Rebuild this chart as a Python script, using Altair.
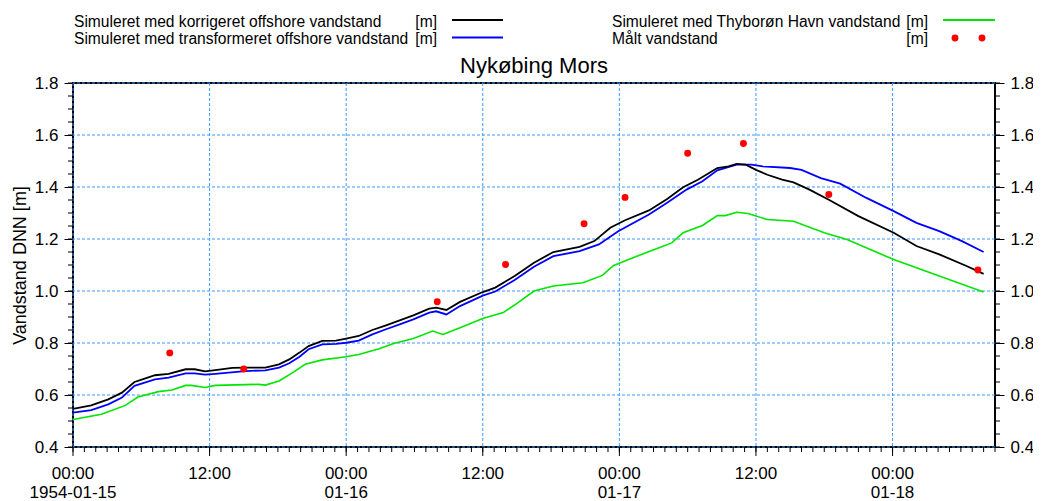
import altair as alt
import pandas as pd

# ---- data (hours after 1954-01-15 00:00, water level in m) ----
korr_h = [0, 1.6, 3.1, 4.3, 5.4, 6.3, 7.2, 8.4, 9.9, 10.7, 11.6, 12.5, 14, 15.1, 16.9,
          18.1, 19, 19.9, 20.7, 21.9, 23.1, 24, 25.1, 26.3, 27.5, 28.7, 29.9, 31.3, 31.9, 32.8,
          34, 36, 37.1, 38.8, 40.5, 42.2, 44.5, 45.8, 47.2, 48.5, 50.6, 52.2, 53.6, 54.9, 56.6,
          57.6, 58.3, 59.1, 60, 61, 62.3, 63.3, 64.7, 66.4, 69, 72.1, 74.1, 76.1, 78.5, 80]
korr_v = [0.547, 0.56, 0.583, 0.609, 0.65, 0.663, 0.676, 0.681, 0.699, 0.699, 0.691, 0.696, 0.704, 0.705, 0.705,
          0.718, 0.737, 0.763, 0.788, 0.808, 0.809, 0.817, 0.827, 0.85, 0.868, 0.887, 0.906, 0.932, 0.936, 0.927,
          0.958, 0.996, 1.013, 1.058, 1.109, 1.15, 1.17, 1.192, 1.243, 1.272, 1.31, 1.354, 1.399, 1.428, 1.473,
          1.479, 1.489, 1.486, 1.466, 1.447, 1.428, 1.418, 1.39, 1.351, 1.288, 1.224, 1.173, 1.141, 1.096, 1.066]

trans_h = [0, 1.6, 3.1, 4.3, 5.4, 7.2, 8.4, 9.9, 10.7, 11.6, 12.5, 15.1, 16.9, 18.1, 19,
           19.9, 20.7, 21.9, 23.1, 24, 25.1, 26.3, 27.5, 28.7, 29.9, 31.3, 31.9, 32.8, 34, 36,
           37.1, 38.8, 40.5, 42.2, 44.5, 46.2, 47.9, 50.6, 52.2, 53.9, 55.3, 56.6, 58.3, 59.6, 60.6,
           63, 64, 65.7, 67.4, 69.7, 72.1, 74.1, 76.1, 78.1, 80]
trans_v = [0.532, 0.542, 0.564, 0.59, 0.635, 0.66, 0.667, 0.683, 0.683, 0.678, 0.681, 0.692, 0.695, 0.705, 0.722,
           0.747, 0.776, 0.795, 0.797, 0.801, 0.809, 0.833, 0.853, 0.872, 0.891, 0.917, 0.922, 0.91, 0.942, 0.982,
           0.998, 1.042, 1.093, 1.134, 1.153, 1.179, 1.23, 1.294, 1.339, 1.39, 1.422, 1.464, 1.486, 1.486, 1.479,
           1.473, 1.466, 1.434, 1.413, 1.358, 1.307, 1.262, 1.23, 1.192, 1.15]

thy_h = [0, 2.5, 4.6, 5.7, 7.5, 8.7, 9.9, 10.4, 11.6, 12.5, 16.3, 16.9, 18.1, 19.3, 20.4,
         21.9, 24, 25.1, 26.9, 28.1, 29.9, 31.6, 32.5, 34, 36, 37.8, 39.1, 40.5, 42.2, 44.8,
         46.5, 47.5, 49.2, 51.2, 52.6, 53.6, 55.3, 56.6, 57.3, 58.3, 59.3, 61, 63.3, 66, 68,
         72.1, 76.1, 80]
thy_v = [0.506, 0.526, 0.56, 0.592, 0.613, 0.619, 0.637, 0.637, 0.629, 0.637, 0.641, 0.638, 0.654, 0.686, 0.718,
         0.735, 0.747, 0.756, 0.778, 0.797, 0.817, 0.846, 0.833, 0.859, 0.894, 0.917, 0.955, 1.0, 1.019, 1.032,
         1.06, 1.098, 1.128, 1.162, 1.185, 1.224, 1.252, 1.29, 1.29, 1.303, 1.298, 1.275, 1.268, 1.224, 1.198,
         1.121, 1.058, 0.996]

obs_h = [8.5, 15.0, 32.0, 38.0, 44.9, 48.5, 54.0, 58.9, 66.4, 79.5]
obs_v = [0.762, 0.70, 0.959, 1.102, 1.259, 1.36, 1.53, 1.567, 1.371, 1.081]

x_ticks = [0, 12, 24, 36, 48, 60, 72]
x_time_labels = ["00:00", "12:00", "00:00", "12:00", "00:00", "12:00", "00:00"]
x_date_labels = ["1954-01-15", "", "01-16", "", "01-17", "", "01-18"]
x_minor = list(range(0, 82))
y_ticks = [0.4, 0.6, 0.8, 1.0, 1.2, 1.4, 1.6, 1.8]
y_minor = [0.4, 0.45, 0.5, 0.55, 0.6, 0.65, 0.7, 0.75, 0.8, 0.85, 0.9, 0.95, 1.0, 1.05,
           1.1, 1.15, 1.2, 1.25, 1.3, 1.35, 1.4, 1.45, 1.5, 1.55, 1.6, 1.65, 1.7, 1.75, 1.8]

legend_names = ["Simuleret med korrigeret offshore vandstand",
                "Simuleret med transformeret offshore vandstand",
                "Simuleret med Thyborøn Havn vandstand",
                "Målt vandstand"]
unit = "[m]"
title_text = "Nykøbing Mors"
y_title = "Vandstand DNN [m]"

# ---- styling ----
FONT = "Liberation Sans"
W, H = 922, 364
GRID = "#3d98ff"
BLACK, BLUE, GREEN, RED = "#000000", "#0000ff", "#00e600", "#ff0000"

x_scale = alt.Scale(domain=[0, 81], nice=False, zero=False)
y_scale = alt.Scale(domain=[0.4, 1.8], nice=False, zero=False)

y_left = alt.Axis(values=y_ticks, format=".1f", title=y_title, titleFontSize=18,
                  titleFontWeight="normal", titleFont=FONT, titleColor="black",
                  titleX=-53, titleY=H / 2, titleAngle=270, titleBaseline="middle",
                  titleAlign="center", grid=False,
                  tickSize=9, tickColor="black", domain=False, labelFontSize=17, labelPadding=6,
                  labelFont=FONT, labelColor="black", labelFlush=False, labelOverlap=False)
y_right = alt.Axis(orient="right", values=y_ticks, format=".1f", title=None, grid=False,
                   tickSize=9, tickColor="black", domain=False, labelFontSize=17, labelPadding=6,
                   labelFont=FONT, labelColor="black", labelFlush=False, labelOverlap=False)

X = lambda: alt.X("h:Q", scale=x_scale, axis=None)

# grid
xgrid = alt.Chart(pd.DataFrame({"h": x_ticks})).mark_rule(
    color=GRID, strokeWidth=1, strokeDash=[3, 2]).encode(x=X())
ygrid = alt.Chart(pd.DataFrame({"v": y_ticks})).mark_rule(
    color=GRID, strokeWidth=1, strokeDash=[3, 2]).encode(
    y=alt.Y("v:Q", scale=y_scale, axis=y_left))


def series(h, v, color, width):
    df = pd.DataFrame({"h": h, "v": v})
    return alt.Chart(df).mark_line(color=color, strokeWidth=width).encode(
        x=X(), y=alt.Y("v:Q", scale=y_scale, axis=None))


green = series(thy_h, thy_v, GREEN, 1.6)
blue = series(trans_h, trans_v, BLUE, 1.8)
black = series(korr_h, korr_v, BLACK, 1.8)
points = alt.Chart(pd.DataFrame({"h": obs_h, "v": obs_v})).mark_circle(
    color=RED, size=48, opacity=1).encode(
    x=X(), y=alt.Y("v:Q", scale=y_scale, axis=y_right))

# minor / major ticks not handled by axes
ymin_df = pd.DataFrame({"v": y_minor})
minor_left = alt.Chart(ymin_df).mark_rule(color="black", strokeWidth=1).encode(
    y=alt.Y("v:Q", scale=y_scale, axis=None), x=alt.value(-5), x2=alt.value(0))
minor_right = alt.Chart(ymin_df).mark_rule(color="black", strokeWidth=1).encode(
    y=alt.Y("v:Q", scale=y_scale, axis=None), x=alt.value(W), x2=alt.value(W + 5))
minor_x = alt.Chart(pd.DataFrame({"h": x_minor})).mark_rule(color="black", strokeWidth=1).encode(
    x=X(), y=alt.value(H), y2=alt.value(H + 5))
major_x = alt.Chart(pd.DataFrame({"h": x_ticks})).mark_rule(color="black", strokeWidth=1).encode(
    x=X(), y=alt.value(H), y2=alt.value(H + 9))

xlab_df = pd.DataFrame({"h": x_ticks, "t": x_time_labels, "d": x_date_labels})
xlab_time = alt.Chart(xlab_df).mark_text(font=FONT, fontSize=17, baseline="alphabetic",
                                         align="center", color="black").encode(
    x=X(), y=alt.value(H + 32), text="t:N")
xlab_date = alt.Chart(xlab_df).mark_text(font=FONT, fontSize=17, baseline="alphabetic",
                                         align="center", color="black").encode(
    x=X(), y=alt.value(H + 51), text="d:N")

one = pd.DataFrame({"a": [0]})


def txt(s, x, y, size=15.6, align="left"):
    return alt.Chart(one).mark_text(font=FONT, fontSize=size, align=align,
                                    baseline="alphabetic", color="black").encode(
        x=alt.value(x), y=alt.value(y), text=alt.value(s))


def seg(x1, x2, y, color, width):
    return alt.Chart(one).mark_rule(color=color, strokeWidth=width).encode(
        x=alt.value(x1), x2=alt.value(x2), y=alt.value(y))


def dot(x, y):
    return alt.Chart(one).mark_circle(color=RED, size=48, opacity=1).encode(
        x=alt.value(x), y=alt.value(y))


legend = [
    txt(legend_names[0], 1, -56.5), txt(unit, 364, -56.5, align="right"), seg(379, 430, -63, BLACK, 2),
    txt(legend_names[1], 1, -39), txt(unit, 364, -39, align="right"), seg(379, 430, -45.5, BLUE, 2),
    txt(legend_names[2], 539, -56.5), txt(unit, 855, -56.5, align="right"), seg(870, 922, -63, GREEN, 2),
    txt(legend_names[3], 539, -39), txt(unit, 855, -39, align="right"), dot(882, -45), dot(909, -45),
    txt(title_text, W / 2, -10, size=22, align="center"),
]

chart = alt.layer(
    ygrid, xgrid, green, blue, black, points, minor_left, minor_right, minor_x, major_x,
    xlab_time, xlab_date, *legend
).resolve_axis(y="independent").properties(
    width=W, height=H,
    padding={"left": 65, "top": 75, "right": 38, "bottom": 54},
    autosize=alt.AutoSizeParams(type="none"),
).configure(font=FONT).configure_view(stroke="black", strokeWidth=2)

chart.save("out.html", embed_options={"renderer": "svg", "actions": False})
